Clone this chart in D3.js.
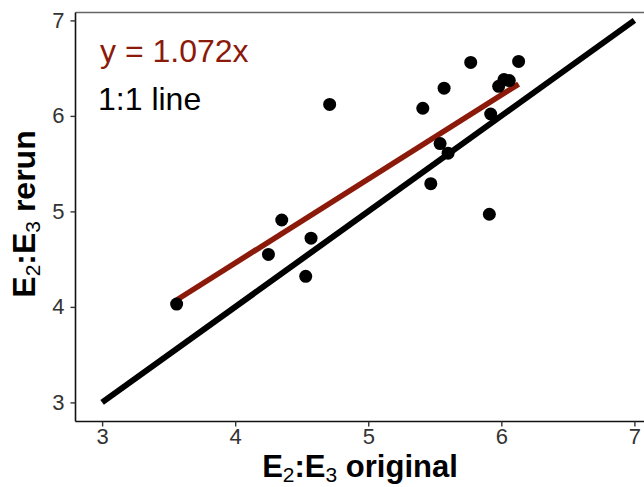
<!DOCTYPE html>
<html>
<head>
<meta charset="utf-8">
<script src="https://cdn.jsdelivr.net/npm/d3@7"></script>
<style>
  html, body { margin: 0; padding: 0; background: #fff; }
  svg { display: block; font-family: "Liberation Sans", Arial, sans-serif; }
</style>
</head>
<body>
<svg id="chart" width="644" height="487"></svg>
<script>
// E2:E3 ratio measured in the original run vs. the rerun
const original = [3.56, 4.25, 4.35, 4.53, 4.57, 4.71, 5.41, 5.57, 5.77, 6.13,
                  5.98, 6.02, 6.06, 5.92, 5.54, 5.60, 5.47, 5.91];
const rerun    = [4.03, 4.55, 4.91, 4.32, 4.72, 6.12, 6.08, 6.29, 6.56, 6.57,
                  6.31, 6.38, 6.37, 6.02, 5.71, 5.61, 5.29, 4.97];

const xTicks = [3, 4, 5, 6, 7];
const yTicks = [3, 4, 5, 6, 7];
const identityRange = [3, 7];
const fitLabel = "y = 1.072x";
const identityLabel = "1:1 line";

const fitColor = "#8b1a0b";

const svg = d3.select("#chart");
const margin = { left: 75.5, top: 12.5, bottom: 421.5 };

// axis limits padded 5% around the 3..7 range
const x = d3.scaleLinear().domain([2.8, 7.2]).range([margin.left, margin.left + 585.5]);
const y = d3.scaleLinear().domain([2.8, 7.2]).range([margin.bottom, margin.bottom - 420.2]);

// least-squares fit of rerun on original
const mx = d3.mean(original), my = d3.mean(rerun);
let sxy = 0, sxx = 0;
original.forEach((v, i) => { sxy += (v - mx) * (rerun[i] - my); sxx += (v - mx) ** 2; });
const slope = sxy / sxx, intercept = my - slope * mx;
const fitX = d3.extent(original);

// top frame line
svg.append("line")
  .attr("x1", margin.left).attr("x2", 644)
  .attr("y1", margin.top).attr("y2", margin.top)
  .attr("stroke", "#666").attr("stroke-width", 1.5);

// axes
const xAxis = svg.append("g")
  .attr("transform", `translate(0,${margin.bottom})`)
  .call(d3.axisBottom(x).tickValues(xTicks).tickFormat(d3.format("d")).tickSize(5).tickPadding(2));
const yAxis = svg.append("g")
  .attr("transform", `translate(${margin.left},0)`)
  .call(d3.axisLeft(y).tickValues(yTicks).tickFormat(d3.format("d")).tickSize(5).tickPadding(6));

[xAxis, yAxis].forEach(g => {
  g.select(".domain").attr("stroke", "#111").attr("stroke-width", 1.6);
  g.selectAll(".tick line").attr("stroke", "#333").attr("stroke-width", 1.4);
  g.selectAll(".tick text").attr("fill", "#333")
    .style("font-size", "22px").style("font-family", "Liberation Sans, Arial, sans-serif");
});
xAxis.select(".domain").attr("d", `M${margin.left},0H644`);
yAxis.select(".domain").attr("d", `M0,${margin.bottom}V${margin.top}`);

const plot = svg.append("g");

// 1:1 reference line
plot.append("line")
  .attr("x1", x(identityRange[0])).attr("y1", y(identityRange[0]))
  .attr("x2", x(identityRange[1])).attr("y2", y(identityRange[1]))
  .attr("stroke", "#000").attr("stroke-width", 6);

// regression line
plot.append("line")
  .attr("x1", x(fitX[0])).attr("y1", y(intercept + slope * fitX[0]))
  .attr("x2", x(fitX[1])).attr("y2", y(intercept + slope * fitX[1]))
  .attr("stroke", fitColor).attr("stroke-width", 5.5);

// points
plot.selectAll("circle")
  .data(original.map((v, i) => [v, rerun[i]]))
  .join("circle")
  .attr("cx", d => x(d[0])).attr("cy", d => y(d[1]))
  .attr("r", 6.5).attr("fill", "#000");

// labels
svg.append("text").attr("x", 100).attr("y", 62)
  .attr("fill", fitColor).style("font-size", "32px").text(fitLabel);
svg.append("text").attr("x", 98).attr("y", 110)
  .attr("fill", "#000").style("font-size", "32px").text(identityLabel);

// axis titles with subscripts
function title(sel, rest) {
  sel.append("tspan").text("E");
  sel.append("tspan").attr("dy", 5).style("font-size", "21px").style("font-weight", "normal").text("2");
  sel.append("tspan").attr("dy", -5).text(":E");
  sel.append("tspan").attr("dy", 5).style("font-size", "21px").style("font-weight", "normal").text("3");
  sel.append("tspan").attr("dy", -5).text(" " + rest);
}
const xt = svg.append("text").attr("x", 360).attr("y", 477)
  .attr("text-anchor", "middle").style("font-size", "31px").style("font-weight", "bold");
title(xt, "original");
const yt = svg.append("text").attr("transform", "translate(35,214) rotate(-90)")
  .attr("text-anchor", "middle").style("font-size", "32px").style("font-weight", "bold");
title(yt, "rerun");
</script>
</body>
</html>
